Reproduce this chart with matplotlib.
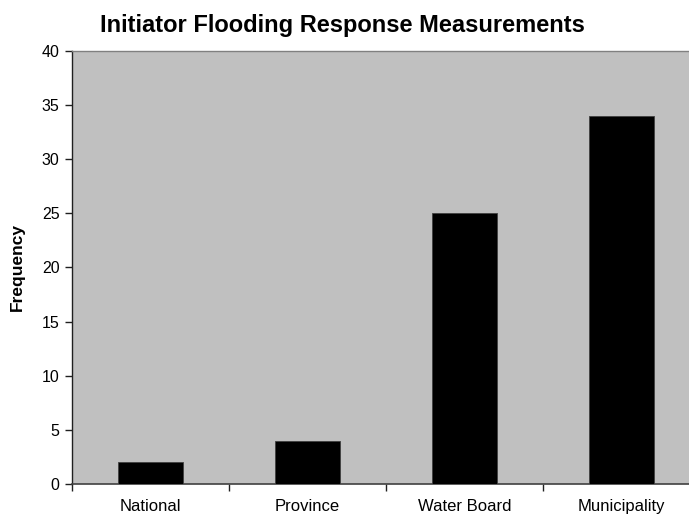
import matplotlib
matplotlib.use("Agg")
import matplotlib.pyplot as plt

categories = ["National", "Province", "Water Board", "Municipality"]
values = [2, 4, 25, 34]
yticks = [0, 5, 10, 15, 20, 25, 30, 35, 40]

plt.rcParams['font.family'] = ['Liberation Sans', 'DejaVu Sans']

W, H = 689, 518
fig = plt.figure(figsize=(W / 100, H / 100), dpi=100)
left, right, top, bottom = 72, 700, 50.7, 484
ax = fig.add_axes([left / W, (H - bottom) / H, (right - left) / W, (bottom - top) / H])
ax.set_facecolor('#C0C0C0')

x = list(range(len(categories)))
ax.bar(x, values, width=0.41, color='black', edgecolor='#404040', linewidth=0.6, zorder=3)

ax.set_xlim(-0.5, len(categories) - 0.5)
ax.set_ylim(0, 40)
ax.set_yticks(yticks)
ax.set_yticklabels([str(t) for t in yticks], fontsize=11.5)
ax.set_xticks(x)
ax.set_xticklabels(categories, fontsize=12)
ax.tick_params(axis='x', length=0, pad=11)
ax.set_xticks([i + 0.5 for i in x[:-1]] + [-0.5], minor=True)
ax.tick_params(axis='x', which='minor', length=5, width=1, color='#202020', direction='out')
ax.tick_params(axis='y', length=5, width=1, color='#202020', pad=4)

ax.spines['left'].set_color('#202020')
ax.spines['left'].set_linewidth(1.0)
ax.spines['bottom'].set_color('#404040')
ax.spines['bottom'].set_linewidth(1.2)
ax.spines['top'].set_color('#808080')
ax.spines['top'].set_linewidth(1.0)
ax.spines['right'].set_visible(False)

ax.set_ylabel('Frequency', fontsize=12.5, fontweight='bold', labelpad=12)
fig.text(342 / W, 1 - 32 / H, 'Initiator Flooding Response Measurements', ha='center', va='baseline',
         fontsize=17, fontweight='bold')

fig.savefig('out.png', dpi=100)
